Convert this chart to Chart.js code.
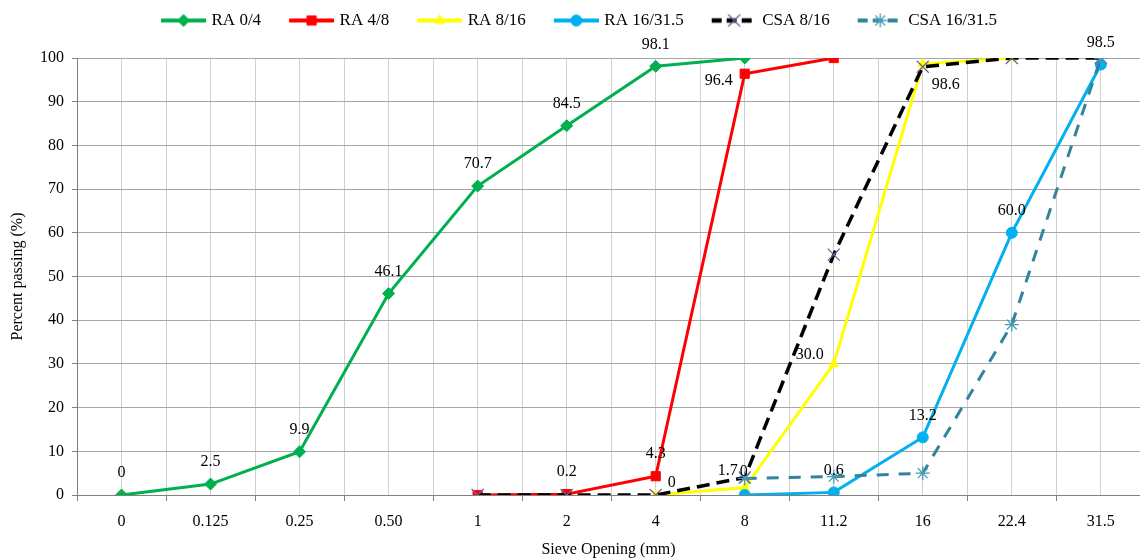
<!DOCTYPE html>
<html>
<head>
<meta charset="utf-8">
<script src="https://cdn.jsdelivr.net/npm/chart.js@4.4.1/dist/chart.umd.min.js"></script>
<style>
  html, body { margin: 0; padding: 0; background: #fff; }
</style>
</head>
<body>
<canvas id="myChart" width="1140" height="559"></canvas>
<script>
// sieve openings (x categories)
const sieveLabels = ['0', '0.125', '0.25', '0.50', '1', '2', '4', '8', '11.2', '16', '22.4', '31.5'];

// percent passing per series, null = no point at that sieve
const ra04    = [0, 2.5, 9.9, 46.1, 70.7, 84.5, 98.1, 100, null, null, null, null];
const ra48    = [null, null, null, null, 0, 0.2, 4.3, 96.4, 100, null, null, null];
const ra816   = [null, null, null, null, null, null, 0, 1.7, 30.0, 98.6, 100, null];
const ra1631  = [null, null, null, null, null, null, null, 0, 0.6, 13.2, 60.0, 98.5];
const csa816  = [null, null, null, null, 0, 0, 0, 4, 55, 98, 100, 100];
const csa1631 = [null, null, null, null, null, null, null, 3.8, 4.2, 5, 39, 100];

// value labels printed next to points
const ra04Text   = ['0', '2.5', '9.9', '46.1', '70.7', '84.5', '98.1', null, null, null, null, null];
const ra48Text   = [null, null, null, null, null, '0.2', '4.3', '96.4', null, null, null, null];
const ra816Text  = [null, null, null, null, null, null, '0', '1.7', '30.0', '98.6', null, null];
const ra1631Text = [null, null, null, null, null, null, null, '0', '0.6', '13.2', '60.0', '98.5'];

const serif = '"Liberation Serif", "Times New Roman", serif';

// where a label sits relative to its point (default above)
const labelShift = {
  1: { 7: [-26, 7] },
  2: { 6: [16, -12], 7: [-17, -17], 8: [-24, -9], 9: [23, 21] },
  3: { 7: [-1, -23] }
};

function toPoints(arr) {
  const pts = [];
  arr.forEach((v, i) => { if (v !== null) pts.push({ x: i, y: v }); });
  return pts;
}

function series(label, values, texts, color, style) {
  return Object.assign({
    label: label,
    data: toPoints(values),
    texts: texts,
    borderColor: color,
    backgroundColor: color,
    pointBackgroundColor: color,
    pointBorderColor: color,
    borderWidth: 3,
    pointBorderWidth: 1,
    tension: 0,
    fill: false
  }, style);
}

const datasets = [
  series('RA 0/4', ra04, ra04Text, '#00b050', { pointStyle: 'rectRot', pointRadius: 6 }),
  series('RA 4/8', ra48, ra48Text, '#ff0000', { pointStyle: 'rect', pointRadius: 6.5 }),
  series('RA 8/16', ra816, ra816Text, '#ffff00', { pointStyle: 'triangle', pointRadius: 5.5 }),
  series('RA 16/31.5', ra1631, ra1631Text, '#00b0f0', { pointStyle: 'circle', pointRadius: 5.5 }),
  series('CSA 8/16', csa816, null, '#000000', { pointStyle: 'crossRot', pointRadius: 8.5, borderWidth: 3.5,
    borderDash: [13, 7], pointBorderColor: '#7060a0', pointBackgroundColor: '#7060a0', pointBorderWidth: 1.3 }),
  series('CSA 16/31.5', csa1631, null, '#31849b', { pointStyle: 'star', pointRadius: 7, borderWidth: 3,
    borderDash: [12, 10], pointBorderColor: '#4a9bb5', pointBackgroundColor: '#4a9bb5', pointBorderWidth: 1.3 })
];
// later series drawn on top
datasets.forEach((d, i) => { d.order = datasets.length - i; });

function legendIcon(ds) {
  const c = document.createElement('canvas');
  c.width = 66; c.height = 16;
  const g = c.getContext('2d');
  g.strokeStyle = ds.borderColor;
  g.lineWidth = ds.borderWidth + 1;
  g.setLineDash(ds.borderDash ? [10, 5] : []);
  g.beginPath(); g.moveTo(21, 8); g.lineTo(66, 8); g.stroke();
  g.setLineDash([]);
  g.fillStyle = ds.pointBackgroundColor;
  g.strokeStyle = ds.pointBorderColor;
  g.lineWidth = ds.pointBorderWidth;
  Chart.helpers.drawPoint(g, { pointStyle: ds.pointStyle, radius: ds.pointRadius, rotation: 0, borderWidth: ds.pointBorderWidth }, 43.5, 8);
  return c;
}

const valueLabels = {
  id: 'valueLabels',
  afterDatasetsDraw(chart) {
    const ctx = chart.ctx;
    ctx.save();
    ctx.font = '16px ' + serif;
    ctx.fillStyle = '#000';
    ctx.textAlign = 'center';
    ctx.textBaseline = 'middle';
    chart.data.datasets.forEach((ds, di) => {
      if (!ds.texts) return;
      const meta = chart.getDatasetMeta(di);
      meta.data.forEach((el, k) => {
        const idx = ds.data[k].x;
        const t = ds.texts[idx];
        if (!t) return;
        const sh = (labelShift[di] && labelShift[di][idx]) || [0, -22];
        ctx.fillText(t, el.x + sh[0], el.y + sh[1]);
      });
    });
    ctx.restore();
  }
};

const legendSpace = {
  id: 'legendSpace',
  beforeInit(chart) {
    const fit = chart.legend.fit;
    chart.legend.fit = function () {
      fit.bind(chart.legend)();
      this.height += 19;
    };
  }
};

new Chart(document.getElementById('myChart'), {
  type: 'line',
  data: { datasets: datasets },
  options: {
    responsive: false,
    animation: false,
    devicePixelRatio: 1,
    layout: { autoPadding: false, padding: { top: 2, left: 0, right: 0, bottom: 0 } },
    plugins: {
      tooltip: { enabled: false },
      legend: {
        position: 'top',
        labels: {
          usePointStyle: true,
          pointStyleWidth: 60,
          boxHeight: 16,
          padding: 10,
          color: '#000',
          font: { family: serif, size: 17 },
          sort: (a, b) => a.datasetIndex - b.datasetIndex,
          generateLabels(chart) {
            const items = Chart.defaults.plugins.legend.labels.generateLabels(chart);
            items.forEach(it => { it.pointStyle = legendIcon(chart.data.datasets[it.datasetIndex]); });
            return items;
          }
        }
      }
    },
    scales: {
      x: {
        type: 'linear',
        min: -0.5,
        max: 11.44,
        ticks: {
          stepSize: 0.5,
          autoSkip: false,
          maxRotation: 0,
          includeBounds: false,
          padding: 11,
          color: '#000',
          font: { family: serif, size: 16 },
          callback: v => Number.isInteger(v) ? sieveLabels[v] : ''
        },
        grid: {
          color: '#d0d0d0',
          tickLength: 6,
          tickColor: c => (c.tick && Number.isInteger(c.tick.value)) ? 'rgba(0,0,0,0)' : '#808080'
        },
        border: { color: '#808080' },
        title: { display: true, text: 'Sieve Opening (mm)', color: '#000', font: { family: serif, size: 16 }, padding: { top: 4, bottom: 0 } },
        afterFit: s => { s.height = 64; }
      },
      y: {
        min: 0,
        max: 100,
        ticks: { stepSize: 10, padding: 8, color: '#000', font: { family: serif, size: 16 } },
        grid: { color: '#a6a6a6', tickLength: 5, tickColor: '#808080' },
        border: { color: '#808080' },
        title: { display: true, text: 'Percent passing (%)', color: '#000', font: { family: serif, size: 16 }, padding: { top: 8, bottom: 4 } },
        afterFit: s => { s.width = 77; }
      }
    }
  },
  plugins: [valueLabels, legendSpace]
});
</script>
</body>
</html>
